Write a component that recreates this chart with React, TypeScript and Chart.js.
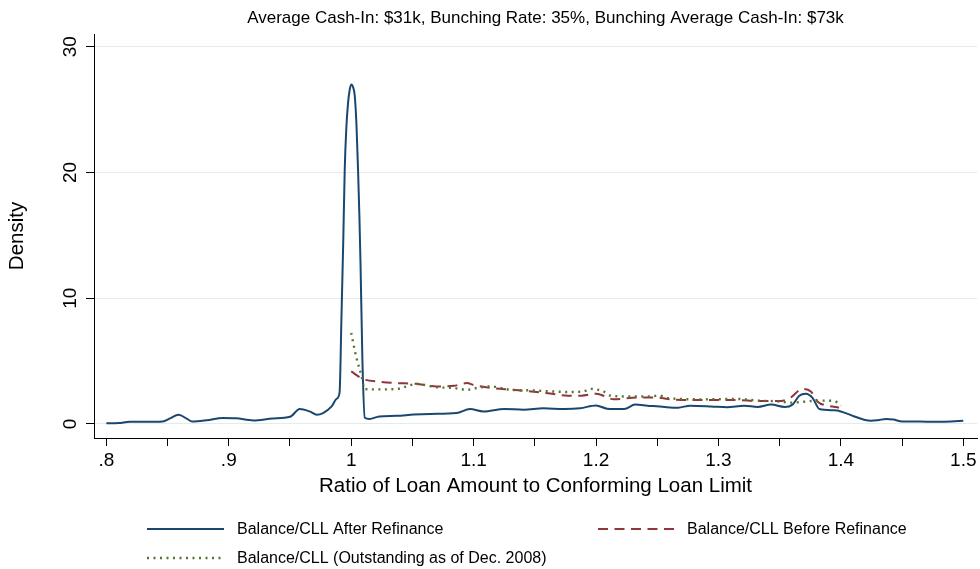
import React, { useEffect, useRef } from 'react';
import { Chart, registerables } from 'chart.js';
Chart.register(...registerables);

const FONT = "'Liberation Sans', Arial, Helvetica, sans-serif";

const titleText = 'Average Cash-In: $31k, Bunching Rate: 35%, Bunching Average Cash-In: $73k';
const xAxisTitle = 'Ratio of Loan Amount to Conforming Loan Limit';
const yAxisTitle = 'Density';
const seriesNames = [
  'Balance/CLL After Refinance',
  'Balance/CLL Before Refinance',
  'Balance/CLL (Outstanding as of Dec. 2008)',
];

const xMajorTicks = [0.8, 0.9, 1.0, 1.1, 1.2, 1.3, 1.4, 1.5];
const xTickLabels = ['.8', '.9', '1', '1.1', '1.2', '1.3', '1.4', '1.5'];
const xMinorTicks = [0.85, 0.95, 1.05, 1.15, 1.25, 1.35, 1.45];
const yTicks = [0, 10, 20, 30];
const yTickLabels = ['0', '10', '20', '30'];

// After refinance
const afterX = [
  0.8, 0.81, 0.819, 0.833, 0.846, 0.852, 0.859, 0.866, 0.87, 0.882, 0.895, 0.906, 0.92, 0.936, 0.95,
  0.958, 0.966, 0.972, 0.977, 0.984, 0.988, 0.9905, 0.992, 0.9935, 0.9947, 0.996, 0.9974, 0.9988,
  1.0002, 1.0015, 1.0029, 1.0043, 1.0056, 1.0067, 1.0076, 1.0092, 1.0111, 1.015, 1.023, 1.037, 1.051,
  1.065, 1.086, 1.097, 1.108, 1.125, 1.141, 1.157, 1.174, 1.187, 1.2, 1.209, 1.223, 1.232, 1.242,
  1.256, 1.267, 1.277, 1.294, 1.307, 1.321, 1.332, 1.343, 1.354, 1.3605, 1.366, 1.3715, 1.377, 1.3824,
  1.3946, 1.4, 1.411, 1.419, 1.4245, 1.43, 1.437, 1.443, 1.45, 1.46, 1.47, 1.48, 1.49, 1.5,
];
const afterY = [
  0.05, 0.07, 0.18, 0.17, 0.2, 0.45, 0.74, 0.4, 0.2, 0.3, 0.48, 0.45, 0.28, 0.44, 0.57,
  1.19, 1.0, 0.74, 0.87, 1.4, 2.0, 2.5, 8.3, 14.5, 20.2, 23.5, 25.5, 26.6,
  27.0, 26.8, 26.1, 23.8, 20.2, 16.5, 12.8, 4.9, 0.5, 0.4, 0.6, 0.65, 0.75,
  0.8, 0.87, 1.19, 1.0, 1.19, 1.14, 1.25, 1.19, 1.25, 1.48, 1.22, 1.19, 1.54, 1.46,
  1.35, 1.3, 1.46, 1.4, 1.33, 1.46, 1.35, 1.54, 1.35, 1.54, 2.25, 2.4, 2.06, 1.19,
  1.09, 1.0, 0.6, 0.34, 0.26, 0.3, 0.4, 0.35, 0.2, 0.2, 0.18, 0.18, 0.2, 0.25,
];

// Before refinance
const beforeX = [
  1.0, 1.0095, 1.023, 1.037, 1.053, 1.07, 1.084, 1.0945, 1.1, 1.114, 1.131, 1.147, 1.164, 1.177,
  1.188, 1.2, 1.206, 1.2145, 1.234, 1.25, 1.261, 1.288, 1.3155, 1.332, 1.351, 1.359, 1.3685, 1.3755,
  1.381, 1.389, 1.3985,
];
const beforeY = [
  4.18, 3.58, 3.36, 3.25, 3.2, 2.99, 3.04, 3.25, 3.1, 2.86, 2.72, 2.59, 2.4, 2.25,
  2.25, 2.4, 2.25, 1.96, 2.1, 2.1, 1.96, 1.9, 1.9, 1.83, 1.83, 2.1, 2.79, 2.59,
  1.77, 1.46, 1.3,
];

// Outstanding as of Dec. 2008
const outX = [
  1.0, 1.004, 1.0085, 1.011, 1.02, 1.037, 1.0535, 1.07, 1.084, 1.0945, 1.1026, 1.114, 1.13, 1.147,
  1.164, 1.179, 1.19, 1.196, 1.206, 1.212, 1.226, 1.2427, 1.252, 1.2585, 1.288, 1.3155, 1.332, 1.348,
  1.359, 1.37, 1.381, 1.3946, 1.4,
];
const outY = [
  7.24, 5.38, 3.79, 2.78, 2.75, 2.78, 3.18, 2.92, 2.86, 2.72, 2.86, 2.99, 2.72, 2.67,
  2.59, 2.54, 2.6, 2.79, 2.59, 2.25, 2.19, 2.19, 2.25, 2.06, 1.96, 1.99, 1.86, 1.8,
  1.7, 1.77, 1.86, 1.83, 1.46,
];

const colors = ['#1a476f', '#90353b', '#55752f'];
const dashes = [[], [10, 6.5], [2, 4.5]];
const widths = [2, 2, 2.4];

const toPoints = (xs: number[], ys: number[]) => xs.map((x, i) => ({ x, y: ys[i] }));

const overlayPlugin = {
  id: 'overlay',
  afterDraw(chart: any) {
    const ctx = chart.ctx as CanvasRenderingContext2D;
    ctx.save();
    ctx.fillStyle = '#000';
    ctx.font = `17px ${FONT}`;
    ctx.textAlign = 'center';
    ctx.textBaseline = 'middle';
    ctx.fillText(titleText, 545.5, 18);

    const items = [
      { x0: 147, x1: 224, y: 529, tx: 237 },
      { x0: 598, x1: 674, y: 529, tx: 687 },
      { x0: 147, x1: 224, y: 558, tx: 237 },
    ];
    items.forEach((it, i) => {
      ctx.beginPath();
      ctx.strokeStyle = colors[i];
      ctx.lineWidth = widths[i];
      ctx.setLineDash(dashes[i]);
      ctx.moveTo(it.x0, it.y);
      ctx.lineTo(it.x1, it.y);
      ctx.stroke();
      ctx.setLineDash([]);
      ctx.fillStyle = '#000';
      ctx.font = `16px ${FONT}`;
      ctx.textAlign = 'left';
      ctx.textBaseline = 'middle';
      ctx.fillText(seriesNames[i], it.tx, it.y + 1);
    });
    ctx.restore();
  },
};

export default function App() {
  const ref = useRef<HTMLCanvasElement>(null);
  useEffect(() => {
    document.body.style.margin = '0';
    const canvas = ref.current!;
    const mk = (i: number, xs: number[], ys: number[]) => ({
      label: seriesNames[i],
      data: toPoints(xs, ys),
      borderColor: colors[i],
      borderWidth: widths[i],
      borderDash: dashes[i],
      pointRadius: 0,
      fill: false,
      cubicInterpolationMode: 'monotone' as const,
      order: i === 0 ? 2 : i === 1 ? 1 : 0,
    });
    const chart = new Chart(canvas, {
      type: 'line',
      data: {
        datasets: [mk(0, afterX, afterY), mk(1, beforeX, beforeY), mk(2, outX, outY)],
      },
      options: {
        responsive: false,
        animation: false,
        devicePixelRatio: 1,
        layout: { padding: { left: 0, right: 3, top: 34, bottom: 0 } },
        plugins: { legend: { display: false }, title: { display: false }, tooltip: { enabled: false } },
        scales: {
          x: {
            type: 'linear',
            position: 'bottom',
            min: 0.7899,
            max: 1.5112,
            afterBuildTicks: (s: any) => {
              s.ticks = [...xMajorTicks, ...xMinorTicks].sort((a, b) => a - b).map((v) => ({ value: v }));
            },
            afterFit: (s: any) => {
              s.height = 131;
            },
            ticks: {
              autoSkip: false,
              maxRotation: 0,
              minRotation: 0,
              padding: 3,
              color: '#000',
              font: { size: 19, family: FONT },
              callback: (v: any) => {
                const idx = xMajorTicks.findIndex((t) => Math.abs(t - Number(v)) < 1e-6);
                return idx >= 0 ? xTickLabels[idx] : '';
              },
            },
            grid: { drawOnChartArea: false, drawTicks: true, tickLength: 8, tickColor: '#000', tickWidth: 1 },
            border: { display: true, color: '#000', width: 1 },
            title: {
              display: true,
              text: xAxisTitle,
              color: '#000',
              font: { size: 20.5, family: FONT },
              padding: { top: 0, bottom: 70 },
            },
          },
          y: {
            type: 'linear',
            min: -1.114,
            max: 31.01,
            afterBuildTicks: (s: any) => {
              s.ticks = yTicks.map((v) => ({ value: v }));
            },
            afterFit: (s: any) => {
              s.width = 94;
            },
            ticks: {
              minRotation: 90,
              maxRotation: 90,
              crossAlign: 'center',
              padding: 5,
              color: '#000',
              font: { size: 19, family: FONT },
              callback: (v: any) => {
                const idx = yTicks.findIndex((t) => Math.abs(t - Number(v)) < 1e-6);
                return idx >= 0 ? yTickLabels[idx] : '';
              },
            },
            grid: { color: '#e3ebed', lineWidth: 1, drawTicks: true, tickLength: 8, tickColor: '#000', tickWidth: 1 },
            border: { display: true, color: '#000', width: 1 },
            title: {
              display: true,
              text: yAxisTitle,
              color: '#000',
              font: { size: 20.5, family: FONT },
              padding: { top: 5, bottom: 0 },
            },
          },
        },
      },
      plugins: [overlayPlugin],
    } as any);
    return () => chart.destroy();
  }, []);
  return (
    <div style={{ width: 980, height: 569 }}>
      <canvas ref={ref} width={980} height={569} style={{ display: 'block' }} />
    </div>
  );
}
